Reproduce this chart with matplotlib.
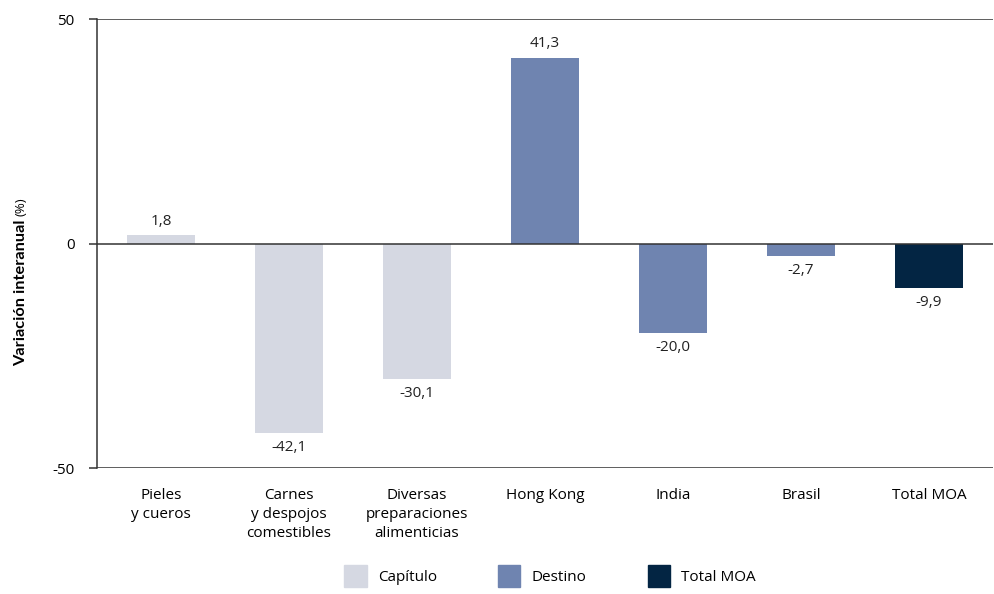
import matplotlib

matplotlib.use("Agg")
import matplotlib.pyplot as plt
from matplotlib.patches import Patch

plt.rcParams["font.family"] = ["Open Sans", "DejaVu Sans"]

# data
categories = ["Pieles\ny cueros", "Carnes\ny despojos\ncomestibles",
              "Diversas\npreparaciones\nalimenticias", "Hong Kong", "India",
              "Brasil", "Total MOA"]
values = [1.8, -42.1, -30.1, 41.3, -20.0, -2.7, -9.9]
groups = ["Capítulo", "Capítulo", "Capítulo", "Destino", "Destino", "Destino",
          "Total MOA"]
group_names = ["Capítulo", "Destino", "Total MOA"]
group_colors = {"Capítulo": "#d5d8e2", "Destino": "#6f84b0", "Total MOA": "#032543"}
yticks = [-50, 0, 50]

fig = plt.figure(figsize=(9.95, 5.94), dpi=100)
ax = fig.add_axes([0.0975, 0.212, 0.9005, 0.756])

x = list(range(len(categories)))
colors = [group_colors[g] for g in groups]
ax.bar(x, values, width=0.53, color=colors, zorder=2)

for xi, v in zip(x, values):
    label = f"{v:.1f}".replace(".", ",")
    if v >= 0:
        ax.annotate(label, (xi, v), xytext=(0, 5), textcoords="offset points",
                    ha="center", va="bottom", fontsize=11, color="#222222")
    else:
        ax.annotate(label, (xi, v), xytext=(0, -5), textcoords="offset points",
                    ha="center", va="top", fontsize=11, color="#222222")

ax.set_xlim(-0.5, len(categories) - 0.5)
ax.set_ylim(-50, 50)
ax.set_yticks(yticks)
ax.set_yticklabels([str(t) for t in yticks], fontsize=11)
for t in yticks:
    ax.axhline(t, color="#333333", lw=1.1, zorder=3)

ax.set_xticks(x)
ax.set_xticklabels(categories, fontsize=11, linespacing=1.4)
ax.tick_params(axis="x", length=0, pad=14)
ax.tick_params(axis="y", length=6, width=1.1, color="#333333", pad=10)

for s in ["top", "right", "bottom"]:
    ax.spines[s].set_visible(False)
ax.spines["left"].set_color("#333333")
ax.spines["left"].set_linewidth(1.1)

# y label: bold part plus normal "(%)"
t1 = fig.text(0.021, 1 - 366 / 594, "Variación interanual", rotation=90,
              ha="center", va="bottom", fontsize=12, fontweight="bold",
              family=["Lato", "DejaVu Sans"])
fig.canvas.draw()
bb = t1.get_window_extent()
t1.set_fontsize(12 * 146 / bb.height)
fig.canvas.draw()
bb = t1.get_window_extent()
fig.text(0.021, (bb.y1 + 3) / fig.bbox.height, "(%)", rotation=90,
         ha="center", va="bottom", fontsize=9.5)

handles = [Patch(color=group_colors[g], label=g) for g in group_names]
fig.legend(handles=handles, loc="lower center", bbox_to_anchor=(0.553, -0.012),
           ncol=3, frameon=False, fontsize=11, handlelength=1.45,
           handleheight=1.9, columnspacing=4.0, handletextpad=0.75)

fig.savefig("out.png", dpi=100)
